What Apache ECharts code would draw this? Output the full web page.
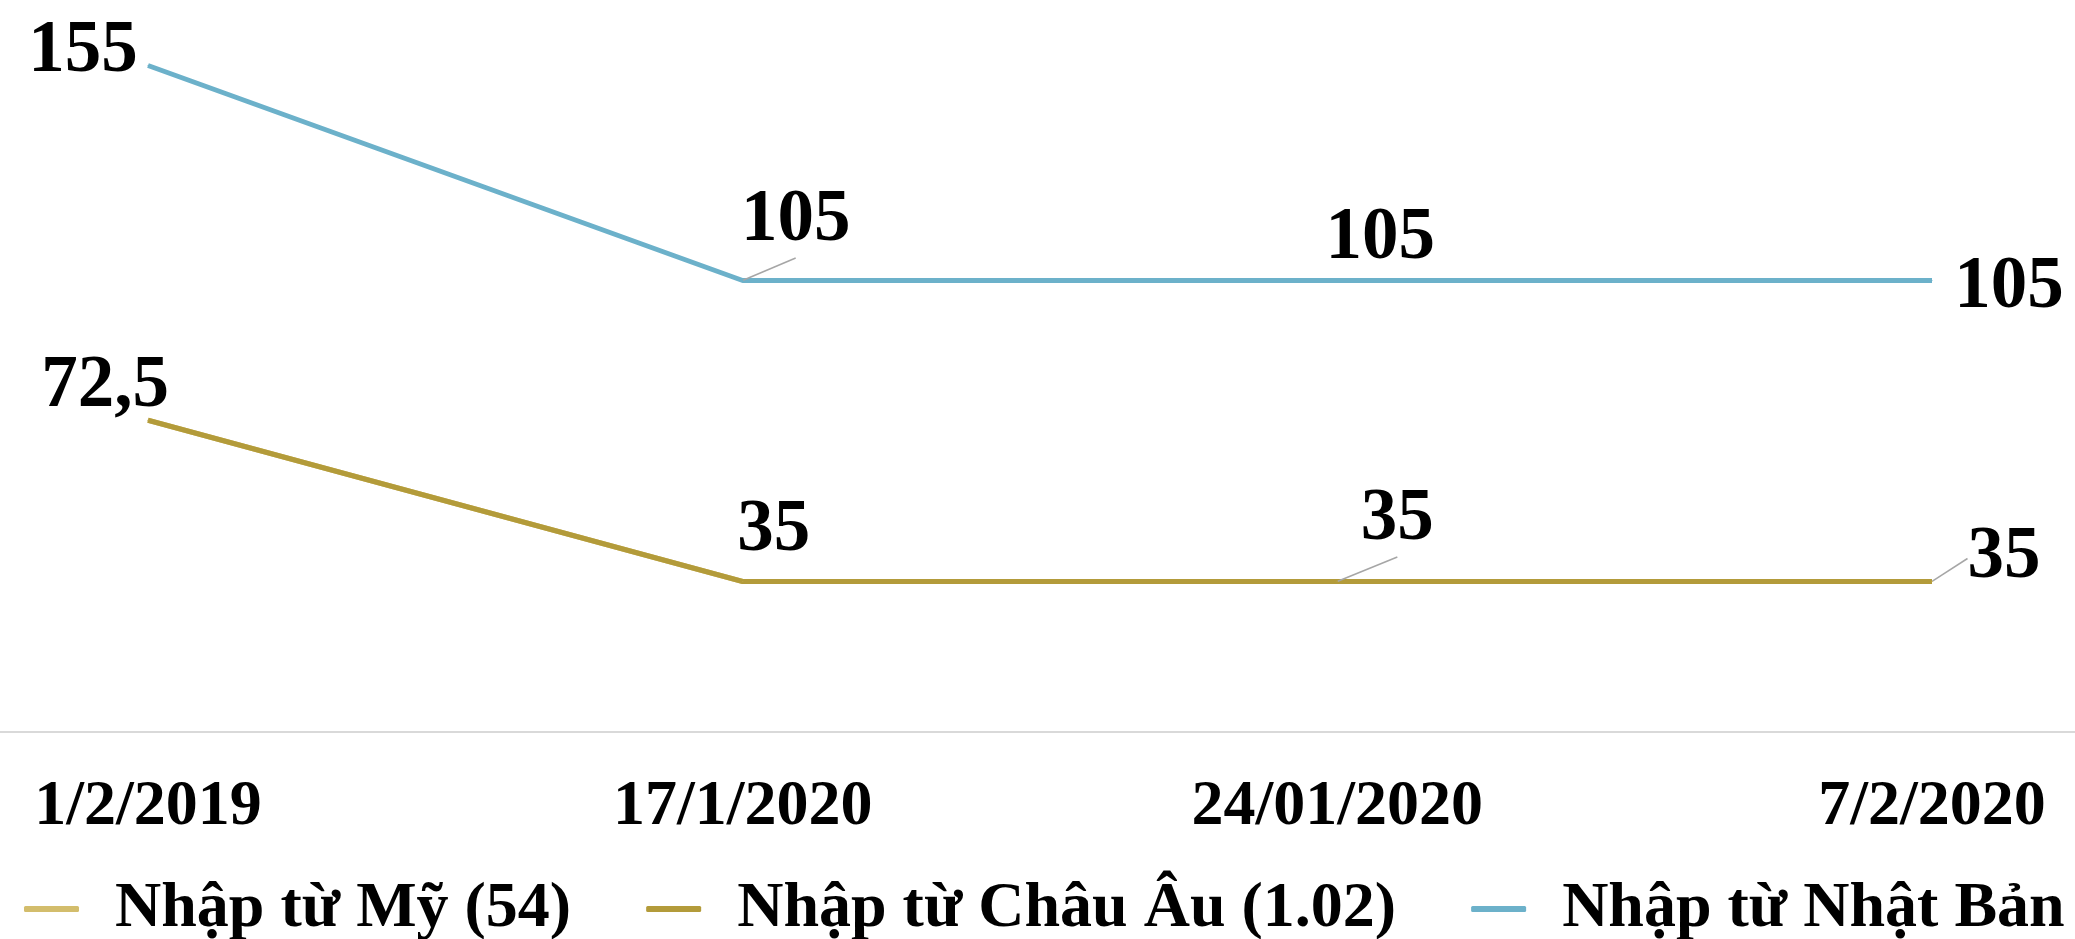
<!DOCTYPE html>
<html>
<head>
<meta charset="utf-8">
<script src="https://cdn.jsdelivr.net/npm/echarts@6/dist/echarts.min.js"></script>
<style>
html,body{margin:0;padding:0;background:#fff;}
#chart{width:2075px;height:939px;}
</style>
</head>
<body>
<div id="chart"></div>
<script>
const categories = ['1/2/2019', '17/1/2020', '24/01/2020', '7/2/2020'];
const seriesNames = ['Nhập từ Mỹ (54)', 'Nhập từ Châu Âu (1.02)', 'Nhập từ Nhật Bản'];
const usValues = [72.5, 35, 35, 35];
const euValues = [72.5, 35, 35, 35];
const jpValues = [155, 105, 105, 105];

const colors = ['#d3bd6c', '#b39b3a', '#6cb1ca'];
const FONT = '"Liberation Serif", "Times New Roman", serif';

// label layout (offsets of label centre from its point) and guide-line flags
const labelOffsets = {
  eu: [[-43, -33], [31, -50], [60, -61], [72, -23]],
  jp: [[-65, -13], [53, -59], [43, -41], [77, 8]]
};
const guideFlags = {
  eu: [false, false, true, true],
  jp: [false, true, false, false]
};

function fmt(v) { return String(v).replace('.', ','); }

function makeData(values, key) {
  return values.map((v, i) => ({
    value: v,
    labelLine: { show: key ? guideFlags[key][i] : false }
  }));
}

function makeSeries(name, values, color, key, showLabel) {
  return {
    name: name,
    type: 'line',
    xAxisIndex: 0,
    yAxisIndex: 0,
    data: makeData(values, key),
    symbol: 'circle',
    symbolSize: 1,
    showSymbol: true,
    itemStyle: { color: color },
    lineStyle: { color: color, width: 5 },
    label: {
      show: showLabel,
      position: 'inside',
      align: 'center',
      verticalAlign: 'middle',
      formatter: p => fmt(p.value),
      fontFamily: FONT,
      fontWeight: 'bold',
      fontSize: 73,
      color: '#000'
    },
    labelLine: {
      show: false,
      lineStyle: { color: '#a6a6a6', width: 1.5 }
    },
    labelLayout: showLabel ? function (params) {
      const o = labelOffsets[key][params.dataIndex];
      return { dx: o[0], dy: o[1] };
    } : undefined,
    emphasis: { disabled: true }
  };
}

const chart = echarts.init(document.getElementById('chart'));
chart.setOption({
  animation: false,
  backgroundColor: '#fff',
  color: colors,
  grid: [
    { left: 148, right: 143, top: 44, bottom: 207 },
    { left: 0, right: 0, top: 44, bottom: 207 }
  ],
  xAxis: [
    {
      type: 'category',
      gridIndex: 0,
      data: categories,
      boundaryGap: false,
      axisLine: { show: false },
      axisTick: { show: false },
      axisLabel: {
        margin: 43,
        fontFamily: FONT,
        fontWeight: 'bold',
        fontSize: 64,
        color: '#000'
      }
    },
    {
      type: 'category',
      gridIndex: 1,
      data: [''],
      axisLine: { lineStyle: { color: '#d9d9d9', width: 2 } },
      axisTick: { show: false },
      axisLabel: { show: false }
    }
  ],
  yAxis: [
    { type: 'value', gridIndex: 0, min: 0, max: 160, show: false, splitLine: { show: false } },
    { type: 'value', gridIndex: 1, min: 0, max: 160, show: false, splitLine: { show: false } }
  ],
  legend: {
    left: 19,
    top: 872,
    icon: 'roundRect',
    itemWidth: 55,
    itemHeight: 6,
    itemGap: 75,
    textStyle: {
      fontFamily: FONT,
      fontWeight: 'bold',
      fontSize: 64,
      color: '#000',
      padding: [0, 0, 0, 31]
    },
    data: seriesNames
  },
  series: [
    makeSeries(seriesNames[0], usValues, colors[0], null, false),
    makeSeries(seriesNames[1], euValues, colors[1], 'eu', true),
    makeSeries(seriesNames[2], jpValues, colors[2], 'jp', true)
  ]
});
</script>
</body>
</html>
